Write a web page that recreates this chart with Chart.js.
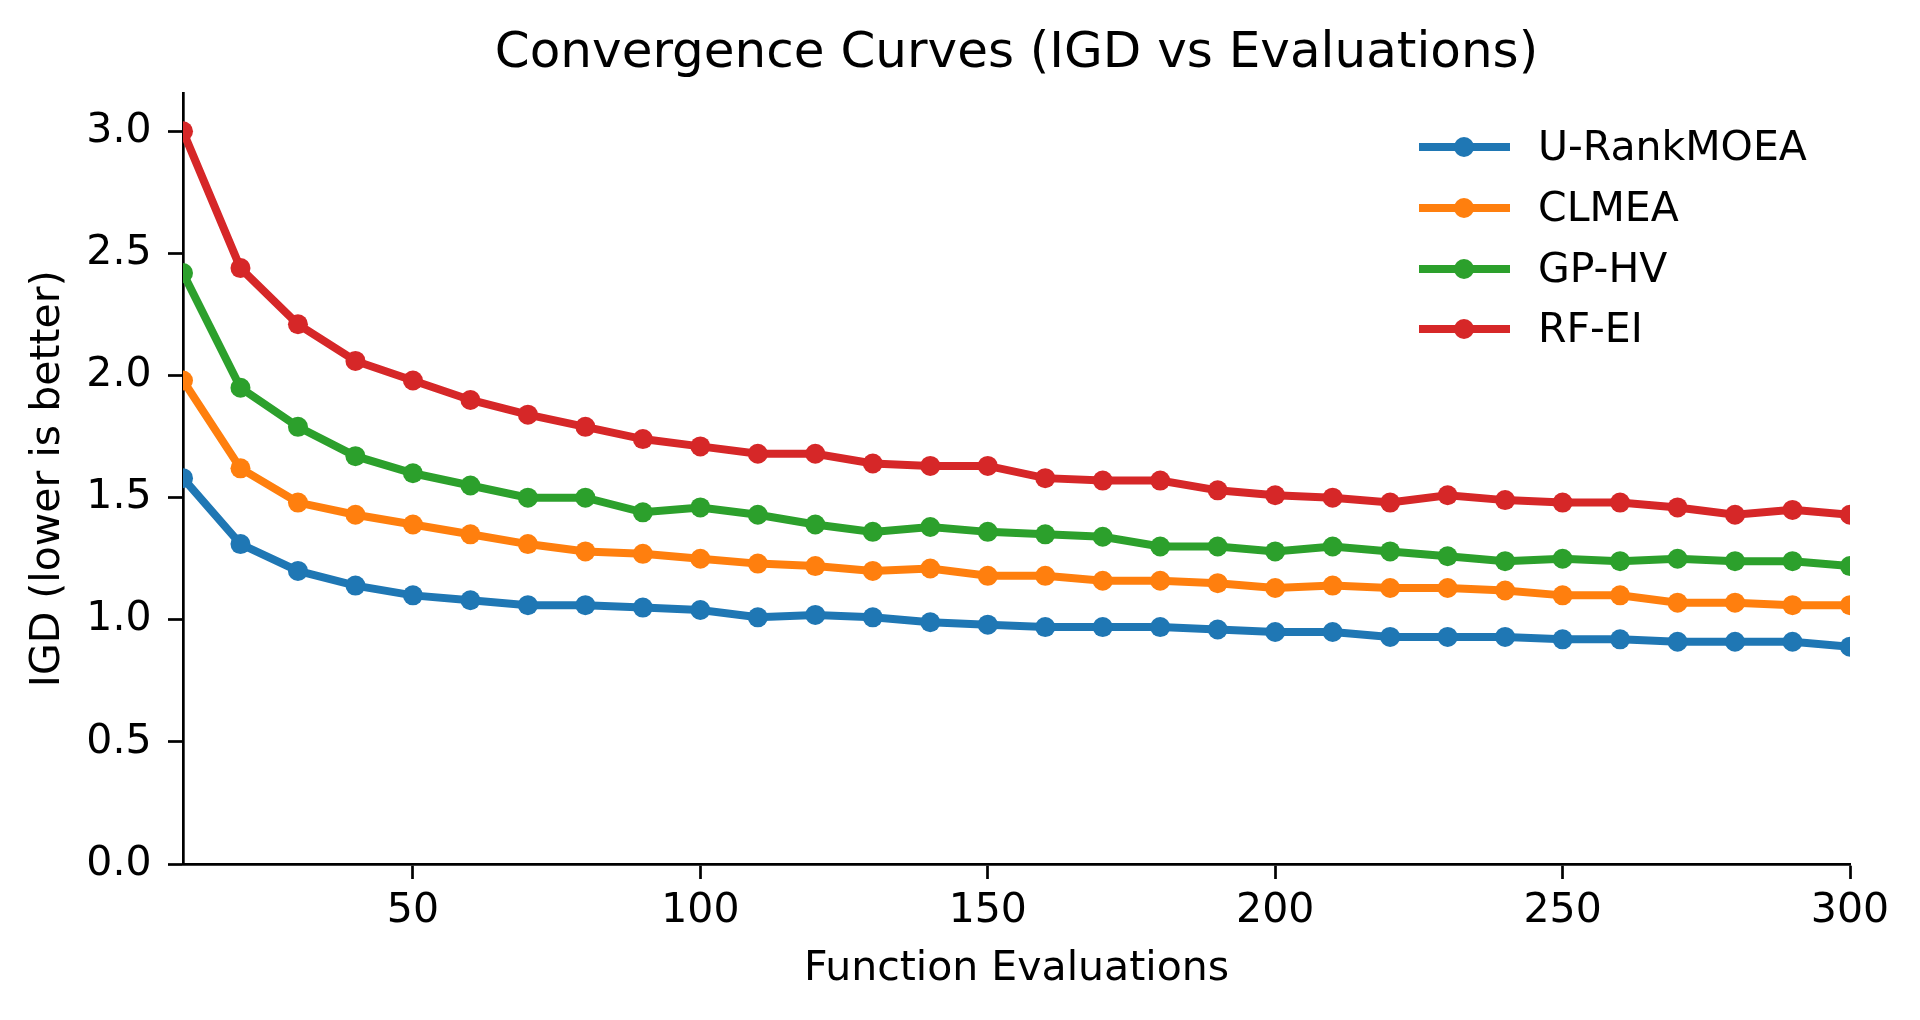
<!DOCTYPE html>
<html>
<head>
<meta charset="utf-8">
<script src="https://cdn.jsdelivr.net/npm/chart.js@4.4.1/dist/chart.umd.min.js"></script>
<style>
  html, body { margin: 0; padding: 0; background: #fff; }
  canvas { display: block; }
</style>
</head>
<body>
<canvas id="convChart" width="1920" height="1020"></canvas>
<script>
// evaluations (x) and IGD values
var evaluations = [10, 20, 30, 40, 50, 60, 70, 80, 90, 100, 110, 120, 130, 140, 150,
    160, 170, 180, 190, 200, 210, 220, 230, 240, 250, 260, 270, 280, 290, 300];

var uRankMoea = [1.58, 1.31, 1.20, 1.14, 1.10, 1.08, 1.06, 1.06, 1.05, 1.04, 1.01, 1.02, 1.01, 0.99, 0.98,
    0.97, 0.97, 0.97, 0.96, 0.95, 0.95, 0.93, 0.93, 0.93, 0.92, 0.92, 0.91, 0.91, 0.91, 0.89];
var clmea = [1.98, 1.62, 1.48, 1.43, 1.39, 1.35, 1.31, 1.28, 1.27, 1.25, 1.23, 1.22, 1.20, 1.21, 1.18,
    1.18, 1.16, 1.16, 1.15, 1.13, 1.14, 1.13, 1.13, 1.12, 1.10, 1.10, 1.07, 1.07, 1.06, 1.06];
var gpHv = [2.42, 1.95, 1.79, 1.67, 1.60, 1.55, 1.50, 1.50, 1.44, 1.46, 1.43, 1.39, 1.36, 1.38, 1.36,
    1.35, 1.34, 1.30, 1.30, 1.28, 1.30, 1.28, 1.26, 1.24, 1.25, 1.24, 1.25, 1.24, 1.24, 1.22];
var rfEi = [3.00, 2.44, 2.21, 2.06, 1.98, 1.90, 1.84, 1.79, 1.74, 1.71, 1.68, 1.68, 1.64, 1.63, 1.63,
    1.58, 1.57, 1.57, 1.53, 1.51, 1.50, 1.48, 1.51, 1.49, 1.48, 1.48, 1.46, 1.43, 1.45, 1.43];

var seriesNames = ["U-RankMOEA", "CLMEA", "GP-HV", "RF-EI"];
var seriesValues = [uRankMoea, clmea, gpHv, rfEi];
var seriesColors = ["#1f77b4", "#ff7f0e", "#2ca02c", "#d62728"];

var xTicks = [50, 100, 150, 200, 250, 300];
var yTicks = [0.0, 0.5, 1.0, 1.5, 2.0, 2.5, 3.0];

var FONT = "'DejaVu Sans', sans-serif";
var LINE_W = 8;
var MARKER_R = 10;
var TITLE = "Convergence Curves (IGD vs Evaluations)";

var datasets = seriesNames.map(function (name, i) {
    return {
        label: name,
        data: evaluations.map(function (x, j) { return { x: x, y: seriesValues[i][j] }; }),
        borderColor: seriesColors[i],
        backgroundColor: seriesColors[i],
        borderWidth: LINE_W,
        pointRadius: MARKER_R,
        pointBorderWidth: 0,
        pointHoverRadius: MARKER_R,
        tension: 0,
        clip: 0,
    };
});

// title centred over the axes, like matplotlib does
var axesTitle = {
    id: "axesTitle",
    afterDraw: function (chart) {
        var ctx = chart.ctx;
        var area = chart.chartArea;
        ctx.save();
        ctx.fillStyle = "#000";
        ctx.font = "50px " + FONT;
        ctx.textAlign = "center";
        ctx.textBaseline = "middle";
        ctx.fillText(TITLE, (area.left + area.right) / 2, 53.8);
        ctx.restore();
    },
};

// matplotlib-style legend: line + marker handle, no frame
var lineLegend = {
    id: "lineLegend",
    afterDatasetsDraw: function (chart) {
        var ctx = chart.ctx;
        var rows = [147, 208, 269, 329];
        ctx.save();
        seriesNames.forEach(function (name, i) {
            var y = rows[i];
            ctx.strokeStyle = seriesColors[i];
            ctx.lineWidth = LINE_W;
            ctx.beginPath();
            ctx.moveTo(1419, y);
            ctx.lineTo(1510, y);
            ctx.stroke();
            ctx.fillStyle = seriesColors[i];
            ctx.beginPath();
            ctx.arc(1464, y, MARKER_R, 0, Math.PI * 2);
            ctx.fill();
            ctx.fillStyle = "#000";
            ctx.font = "41px " + FONT;
            ctx.textBaseline = "middle";
            ctx.textAlign = "left";
            ctx.fillText(name, 1538, y + 2.8);
        });
        ctx.restore();
    },
};

new Chart(document.getElementById("convChart").getContext("2d"), {
    type: "line",
    data: { datasets: datasets },
    options: {
        responsive: false,
        animation: false,
        devicePixelRatio: 1,
        layout: { padding: { left: 0, right: 70, top: 93.5, bottom: 0 } },
        plugins: {
            legend: { display: false },
            tooltip: { enabled: false },
            title: { display: false },
        },
        scales: {
            x: {
                type: "linear",
                min: 10,
                max: 300,
                afterBuildTicks: function (scale) {
                    scale.ticks = xTicks.map(function (v) { return { value: v }; });
                },
                afterFit: function (scale) { scale.height = 156; },
                grid: { drawOnChartArea: false, drawTicks: true, tickLength: 15, tickWidth: 2.7, tickColor: "#000" },
                border: { display: true, color: "#000", width: 2.7 },
                ticks: {
                    color: "#000",
                    font: { family: FONT, size: 41, lineHeight: 1.2 },
                    padding: 7.7,
                    maxRotation: 0,
                    autoSkip: false,
                },
                title: {
                    display: true,
                    text: "Function Evaluations",
                    color: "#000",
                    font: { family: FONT, size: 41, lineHeight: 1.2 },
                    padding: { top: 0, bottom: 25.6 },
                },
            },
            y: {
                type: "linear",
                min: 0,
                max: 3.155,
                afterBuildTicks: function (scale) {
                    scale.ticks = yTicks.map(function (v) { return { value: v }; });
                },
                afterFit: function (scale) { scale.width = 183; },
                grid: { drawOnChartArea: false, drawTicks: true, tickLength: 15, tickWidth: 2.7, tickColor: "#000" },
                border: { display: true, color: "#000", width: 2.7 },
                ticks: {
                    color: "#000",
                    font: { family: FONT, size: 41, lineHeight: 1.2 },
                    padding: 16.5,
                    autoSkip: false,
                    callback: function (v) { return Number(v).toFixed(1); },
                },
                title: {
                    display: true,
                    text: "IGD (lower is better)",
                    color: "#000",
                    font: { family: FONT, size: 41, lineHeight: 1.2 },
                    padding: { top: 24.2, bottom: 0 },
                },
            },
        },
    },
    plugins: [axesTitle, lineLegend],
});
</script>
</body>
</html>
